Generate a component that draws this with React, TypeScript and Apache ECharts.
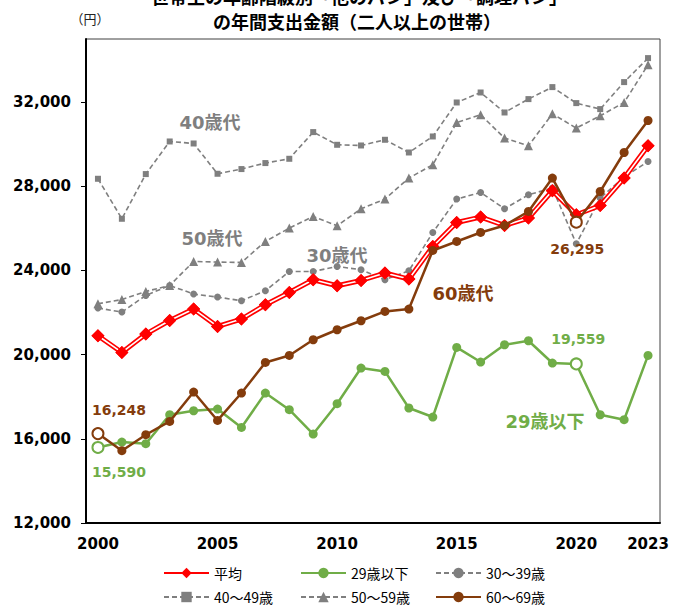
import React, { useEffect, useRef } from 'react';
import * as echarts from 'echarts';

const years = ['2000', '2001', '2002', '2003', '2004', '2005', '2006', '2007', '2008', '2009', '2010', '2011',
  '2012', '2013', '2014', '2015', '2016', '2017', '2018', '2019', '2020', '2021', '2022', '2023'];
const shownYears = ['2000', '2005', '2010', '2015', '2020', '2023'];

const avgValues = [20899, 20105, 20979, 21625, 22167, 21340, 21692, 22372, 22956, 23559, 23274, 23526,
  23878, 23592, 25141, 26281, 26538, 26139, 26491, 27788, 26647, 27089, 28391, 29926];
const under29Values = [15590, 15848, 15768, 17145, 17335, 17416, 16542, 18176, 17383, 16228, 17668, 19364,
  19203, 17464, 17036, 20343, 19649, 20471, 20661, 19602, 19559, 17145, 16908, 19963];
const age30Values = [22215, 22025, 22813, 23288, 22880, 22737, 22561, 23037, 23953, 23953, 24191, 24034,
  23559, 23987, 25806, 27393, 27707, 26932, 27598, 27916, 25270, 27441, 28438, 29180];
const age40Values = [28358, 26457, 28581, 30130, 30035, 28596, 28819, 29104, 29308, 30576, 29973, 29940,
  30211, 29607, 30368, 31983, 32458, 31508, 32144, 32714, 31954, 31669, 32952, 34092];
const age50Values = [22420, 22620, 23003, 23288, 24429, 24400, 24380, 25379, 26015, 26567, 26125, 26932,
  27393, 28391, 29023, 31033, 31398, 30291, 29926, 31446, 30766, 31351, 31983, 33774];
const age60Values = [16248, 15435, 16195, 16827, 18224, 16874, 18176, 19630, 19963, 20708, 21184, 21611,
  22053, 22167, 24951, 25379, 25806, 26139, 26804, 28391, 26295, 27754, 29607, 31127];

const yTicks = [12000, 16000, 20000, 24000, 28000, 32000];
const seriesNames = ['平均', '29歳以下', '30～39歳', '40～49歳', '50～59歳', '60～69歳'];
const titleLines = ['世帯主の年齢階級別「他のパン」及び「調理パン」', 'の年間支出金額（二人以上の世帯）'];
const unitLabel = '（円）';
const groupLabels = ['40歳代', '50歳代', '30歳代', '60歳代', '29歳以下'];
const calloutIndexes = [0, 20];

const RED = '#FF0000';
const GREEN = '#70AD47';
const BROWN = '#843C0C';
const GRAY = '#7F7F7F';
const NUM_FONT = '"DejaVu Sans", "Noto Sans CJK JP", sans-serif';
const JP_FONT = '"Noto Sans CJK JP", "DejaVu Sans", sans-serif';

const fmt = (v: number) => Math.round(v).toLocaleString('en-US');

type Callout = { index: number; position: string; offset: number[] };

function withCallouts(values: number[], color: string, callouts: Callout[]) {
  return values.map((v, i) => {
    const c = callouts.find((k) => k.index === i);
    if (!c) return v;
    return {
      value: v,
      symbol: 'circle',
      symbolSize: 11,
      itemStyle: { color: '#fff', borderColor: color, borderWidth: 2 },
      label: {
        show: true,
        position: c.position,
        offset: c.offset,
        formatter: (p: any) => fmt(p.value),
        color,
        fontSize: 14,
        fontWeight: 'bold',
        fontFamily: NUM_FONT,
      },
    };
  });
}

export default function App() {
  const ref = useRef<HTMLDivElement>(null);
  useEffect(() => {
    document.body.style.margin = '0';
    const chart = echarts.init(ref.current!, null, { renderer: 'svg' });

    const dashed = (name: string, data: number[], symbol: string, size: number) => ({
      name,
      type: 'line',
      data,
      symbol,
      symbolSize: size,
      showSymbol: true,
      color: GRAY,
      itemStyle: { color: GRAY },
      lineStyle: { color: GRAY, width: 1.6, type: [5, 3] },
      z: 2,
    });

    const colX = [163, 300, 435];
    const rowY = [566, 590];
    const legends = seriesNames.map((n, i) => ({
      data: [n],
      left: colX[i % 3],
      top: rowY[Math.floor(i / 3)],
      itemWidth: 45,
      itemHeight: 13,
      itemGap: 0,
      padding: 0,
      selectedMode: false,
      textStyle: { fontSize: 14, color: '#000', fontFamily: JP_FONT },
    }));

    const labelText = (text: string, x: number, y: number, color: string, size = 18) => ({
      type: 'text',
      x,
      y,
      silent: true,
      style: {
        text,
        fill: color,
        font: `bold ${size}px ${NUM_FONT}`,
        textAlign: 'center',
        textVerticalAlign: 'middle',
        verticalAlign: 'middle',
      },
    });

    const option: any = {
      animation: false,
      backgroundColor: '#fff',
      grid: {
        left: 86,
        top: 39,
        width: 574,
        height: 484,
        show: true,
        borderColor: '#404040',
        borderWidth: 1,
        containLabel: false,
      },
      legend: legends,
      xAxis: {
        type: 'category',
        data: years,
        boundaryGap: true,
        axisLine: { lineStyle: { color: '#000', width: 2 } },
        axisTick: { inside: true, length: 5, alignWithLabel: true, interval: 0, lineStyle: { color: '#000', width: 1 } },
        axisLabel: {
          interval: (_i: number, v: string) => shownYears.includes(v),
          color: '#000',
          fontSize: 15,
          fontWeight: 'bold',
          fontFamily: NUM_FONT,
          margin: 13,
        },
        splitLine: { show: false },
      },
      yAxis: {
        type: 'value',
        min: 12000,
        max: 35000,
        interval: 4000,
        axisLine: { show: true, lineStyle: { color: '#000', width: 2 } },
        axisTick: { show: true, length: 5, lineStyle: { color: '#000', width: 1 }, customValues: yTicks },
        axisLabel: {
          customValues: yTicks,
          formatter: (v: number) => (yTicks.includes(v) ? fmt(v) : ''),
          color: '#000',
          fontSize: 15,
          fontWeight: 'bold',
          fontFamily: NUM_FONT,
          margin: 15,
        },
        splitLine: { show: false },
      },
      graphic: [
        labelText(titleLines[0], 359, -3, '#000', 18),
        {
          type: 'text',
          x: 357,
          y: 21,
          silent: true,
          style: {
            text: titleLines[1],
            fill: '#000',
            font: `bold 18px ${JP_FONT}`,
            textAlign: 'center',
            textVerticalAlign: 'middle',
            verticalAlign: 'middle',
          },
        },
        {
          type: 'text',
          x: 90,
          y: 18,
          silent: true,
          style: {
            text: unitLabel,
            fill: '#222',
            font: `13px ${JP_FONT}`,
            textAlign: 'center',
            textVerticalAlign: 'middle',
            verticalAlign: 'middle',
          },
        },
        labelText(groupLabels[0], 210, 122, GRAY),
        labelText(groupLabels[1], 212, 238, GRAY),
        labelText(groupLabels[2], 337, 255, GRAY),
        labelText(groupLabels[3], 463, 293, BROWN),
        labelText(groupLabels[4], 545, 421, GREEN),
      ],
      series: [
        dashed(seriesNames[3], age40Values, 'rect', 6),
        dashed(seriesNames[4], age50Values, 'triangle', 9),
        dashed(seriesNames[2], age30Values, 'circle', 7),
        {
          name: seriesNames[0],
          type: 'line',
          data: avgValues,
          symbol: 'diamond',
          symbolSize: 13,
          color: RED,
          itemStyle: { color: RED },
          lineStyle: { color: RED, width: 5 },
          z: 3,
        },
        {
          name: 'avg-inner',
          type: 'line',
          data: avgValues,
          symbol: 'none',
          silent: true,
          lineStyle: { color: '#fff', width: 1.6 },
          z: 3,
        },
        {
          name: 'avg-marks',
          type: 'line',
          data: avgValues,
          symbol: 'diamond',
          symbolSize: 13,
          silent: true,
          itemStyle: { color: RED },
          lineStyle: { width: 0, opacity: 0 },
          z: 3,
        },
        {
          name: seriesNames[1],
          type: 'line',
          data: withCallouts(under29Values, GREEN, [
            { index: calloutIndexes[0], position: 'bottom', offset: [21, 6] },
            { index: calloutIndexes[1], position: 'top', offset: [2, -6] },
          ]),
          symbol: 'circle',
          symbolSize: 9,
          color: GREEN,
          itemStyle: { color: GREEN },
          lineStyle: { color: GREEN, width: 2.5 },
          z: 4,
        },
        {
          name: seriesNames[5],
          type: 'line',
          data: withCallouts(age60Values, BROWN, [
            { index: calloutIndexes[0], position: 'top', offset: [21, -5] },
            { index: calloutIndexes[1], position: 'bottom', offset: [1, 8] },
          ]),
          symbol: 'circle',
          symbolSize: 9,
          color: BROWN,
          itemStyle: { color: BROWN },
          lineStyle: { color: BROWN, width: 2.5 },
          z: 5,
        },
      ],
    };

    chart.setOption(option);
    return () => chart.dispose();
  }, []);

  return <div ref={ref} style={{ width: 673, height: 610 }} />;
}
